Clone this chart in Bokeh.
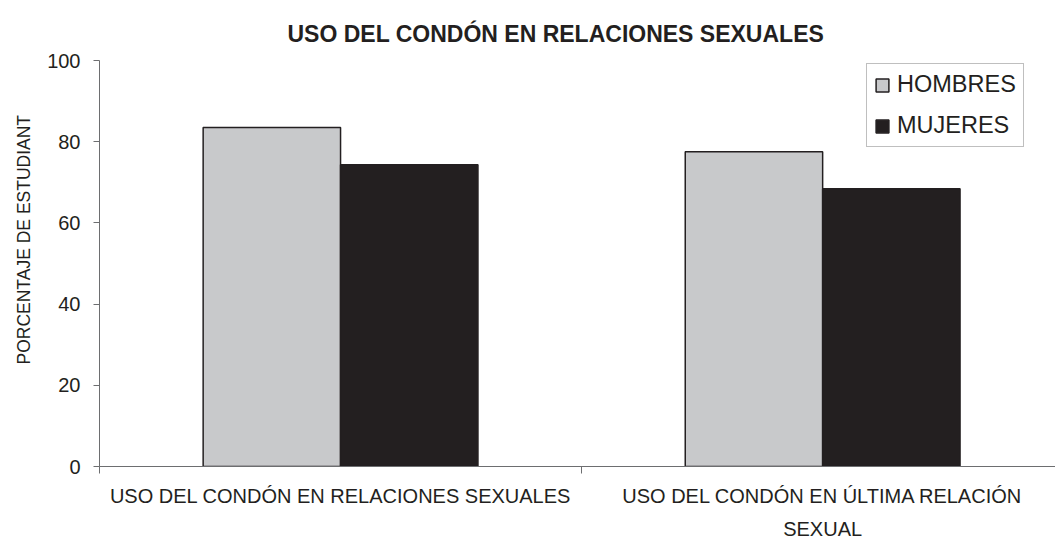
import numpy as np
from bokeh.plotting import figure
from bokeh.models import Range1d, FixedTicker, Legend, LegendItem, ColumnDataSource, Title
from bokeh.embed import file_html
from bokeh.resources import INLINE

categories = ["USO DEL CONDÓN EN RELACIONES SEXUALES", "USO DEL CONDÓN EN ÚLTIMA RELACIÓN\nSEXUAL"]
hombres = [83.5, 77.5]
mujeres = [74.3, 68.4]
series_names = ["HOMBRES", "MUJERES"]
y_ticks = [0, 20, 40, 60, 80, 100]
y_label = "PORCENTAJE DE ESTUDIANT"

FONT = "Liberation Sans"
GRAY = "#c8c9cb"
BLACK = "#231f20"
AXIS = "#6d6e70"

centers = np.arange(len(categories)) + 0.5
bw = 0.285

p = figure(width=1055, height=542, output_backend="svg", toolbar_location=None,
           x_range=Range1d(0, 1.983), y_range=Range1d(0, 100),
           min_border_left=99, min_border_top=60, min_border_bottom=75, min_border_right=0)
p.outline_line_color = None
p.grid.grid_line_color = None

src_h = ColumnDataSource(dict(x=centers - bw / 2, top=hombres))
src_m = ColumnDataSource(dict(x=centers + bw / 2, top=mujeres))
rh = p.vbar(x="x", top="top", width=bw, bottom=0, source=src_h, fill_color=GRAY,
            line_color=BLACK, line_width=1.5)
rm = p.vbar(x="x", top="top", width=bw, bottom=0, source=src_m, fill_color=BLACK,
            line_color=BLACK, line_width=1.5)

p.title.text = "USO DEL CONDÓN EN RELACIONES SEXUALES"
p.title.text_font = FONT
p.title.text_font_size = "23px"
p.title.text_font_style = "bold"
p.title.text_color = BLACK
p.title.align = "left"
p.title.offset = 188
p.title.standoff = 27

# x axis: labels at category centres, ticks at category boundaries
xa = p.xaxis[0]
xa.ticker = FixedTicker(ticks=list(centers), minor_ticks=[0, 1, 2])
xa.major_label_overrides = {float(c): lab for c, lab in zip(centers, categories)}
xa.major_tick_line_color = None
xa.major_tick_out = 0
xa.major_tick_in = 0
xa.minor_tick_line_color = AXIS
xa.minor_tick_in = 0
xa.minor_tick_out = 7
xa.axis_line_color = AXIS
xa.major_label_text_font = FONT
xa.major_label_text_font_size = "20px"
xa.major_label_text_color = BLACK
xa.major_label_standoff = 11
xa.major_label_text_line_height = 1.5

# y axis
ya = p.yaxis[0]
ya.ticker = FixedTicker(ticks=y_ticks)
ya.minor_tick_line_color = None
ya.major_tick_in = 0
ya.major_tick_out = 6
ya.major_tick_line_color = AXIS
ya.axis_line_color = AXIS
ya.major_label_text_font = FONT
ya.major_label_text_font_size = "20px"
ya.major_label_text_color = BLACK
ya.major_label_standoff = 13

ytitle = Title(text=y_label, align="left", offset=102, standoff=21, text_font=FONT,
               text_font_size="17.5px", text_font_style="normal", text_color=BLACK)
p.add_layout(ytitle, "left")

legend = Legend(items=[LegendItem(label=series_names[0], renderers=[rh]),
                       LegendItem(label=series_names[1], renderers=[rm])],
                location=(767, 319))
legend.border_line_color = "#808080"
legend.border_line_width = 1
legend.label_text_font = FONT
legend.label_text_font_size = "23.5px"
legend.label_text_color = BLACK
legend.glyph_width = 16
legend.glyph_height = 16
legend.label_standoff = 7
legend.label_height = 27
legend.spacing = 14
legend.padding = 7
legend.margin = 0
p.add_layout(legend, "center")

open("out.html", "w").write(file_html(p, INLINE))
